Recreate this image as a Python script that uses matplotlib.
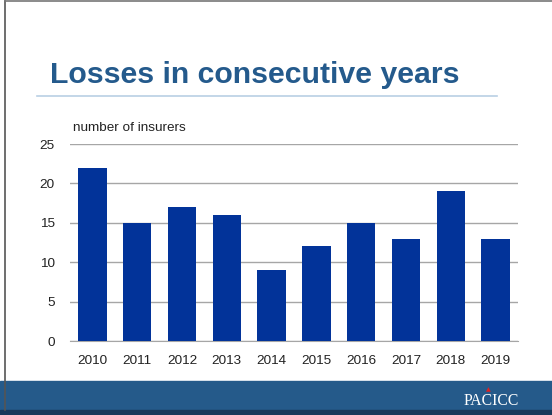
import matplotlib
matplotlib.use("Agg")
import matplotlib.pyplot as plt
from matplotlib.patches import Rectangle
from matplotlib.lines import Line2D

years = ["2010", "2011", "2012", "2013", "2014", "2015", "2016", "2017", "2018", "2019"]
losses = [22, 15, 17, 16, 9, 12, 15, 13, 19, 13]
yticks = [0, 5, 10, 15, 20, 25]

W, H = 552, 415
fig = plt.figure(figsize=(W / 100, H / 100), dpi=100)
plt.rcParams['font.family'] = ['Liberation Sans', 'DejaVu Sans']

def fx(px):
    return px / W

def fy(py):
    return 1 - py / H

# axes: x 70..518, y 144..341
ax = fig.add_axes([fx(70), fy(341), fx(518 - 70), (341 - 144) / H])
ax.bar(range(len(years)), losses, width=0.63, color="#023399", zorder=3)
ax.set_xlim(-0.5, len(years) - 0.5)
ax.set_ylim(0, 25)
ax.set_yticks(yticks)
ax.set_xticks(range(len(years)))
ax.set_xticklabels(years)
ax.yaxis.grid(True, color="#a6a6a6", linewidth=1.0, zorder=0)
for s in ax.spines.values():
    s.set_visible(False)
ax.spines['bottom'].set_visible(True)
ax.spines['bottom'].set_color("#a6a6a6")
ax.tick_params(length=0, labelsize=9.7, colors="#222222")
ax.tick_params(axis='y', pad=11)
ax.tick_params(axis='x', pad=10)

fig.text(fx(73), fy(128), "number of insurers", fontsize=9.7, color="#222222", va='center', ha='left')

# Title
fig.text(fx(50), fy(75), "Losses in consecutive years", fontsize=21.8, fontweight='bold',
         color="#245A8C", va='center', ha='left')
fig.add_artist(Line2D([fx(37), fx(497)], [fy(96), fy(96)], color="#b9cfe4", linewidth=1.2))

# Bottom band
fig.add_artist(Rectangle((0, fy(410)), 1, (410 - 381) / H, color="#255A8A", zorder=0))
fig.add_artist(Rectangle((0, 0), 1, (H - 410) / H, color="#18395A", zorder=0))
fig.text(fx(491), fy(401), "PACICC", fontsize=11.3, color="white", family=['Liberation Serif', 'DejaVu Serif'],
         va='center', ha='center')
fig.text(fx(488), fy(390), "\u25B2", fontsize=4.5, color="#e02020", va='center', ha='center',
         family=['DejaVu Sans'])

# border lines
fig.add_artist(Line2D([fx(4.5), fx(4.5)], [fy(410), fy(1)], color="#555555", linewidth=1.2))
fig.add_artist(Line2D([fx(4.5), 1], [fy(1), fy(1)], color="#777777", linewidth=1.2))

fig.savefig("out.png", dpi=100)
